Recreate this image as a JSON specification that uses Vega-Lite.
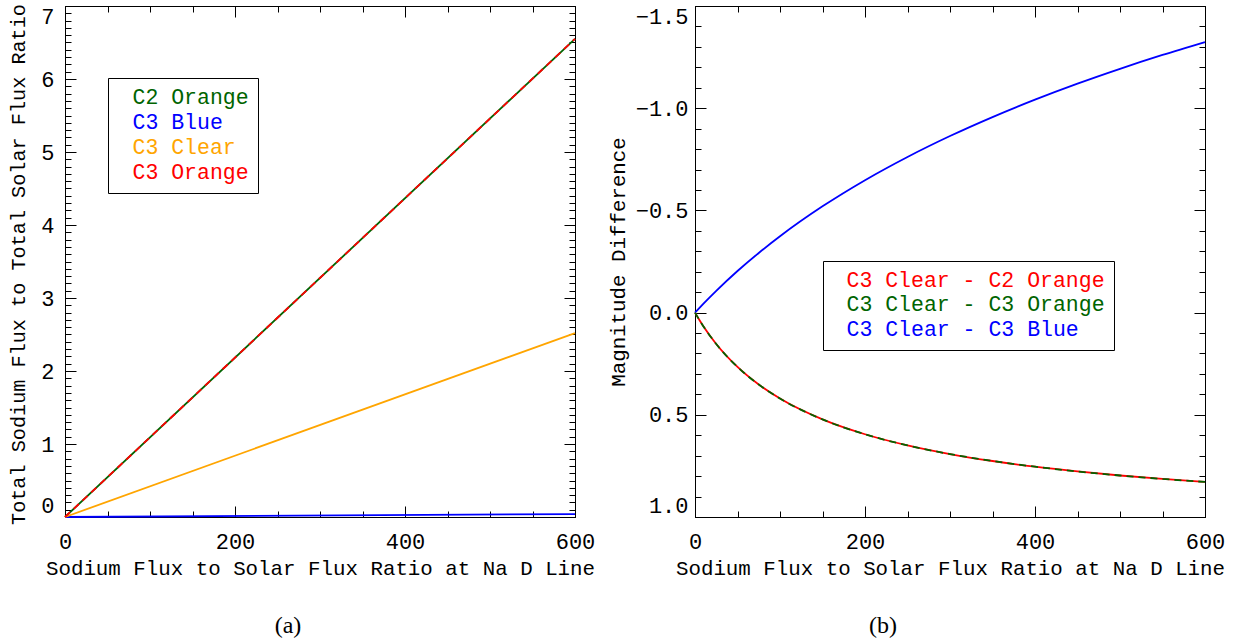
{
  "$schema": "https://vega.github.io/schema/vega-lite/v6.json",
  "autosize": {"type": "none"},
  "padding": {"left": 65, "top": 6, "right": 1178, "bottom": 638},
  "background": "white",
  "config": {
    "font": "Liberation Mono",
    "view": {"stroke": "black", "strokeWidth": 1},
    "axis": {"domain": false, "grid": false, "tickColor": "black", "tickWidth": 1, "labelFont": "Liberation Mono", "labelFontSize": 22, "labelColor": "black", "titleFont": "Liberation Mono", "titleFontSize": 20.8, "titleFontWeight": "normal", "titleColor": "black"},
    "title": {"font": "Liberation Serif", "fontSize": 24, "fontWeight": "normal", "color": "black"},
    "line": {"strokeWidth": 1.8}
  },
  "datasets": {
    "a": [
      {"series": "C2 Orange", "x": 0, "y": 0}, {"series": "C2 Orange", "x": 600, "y": 6.55},
      {"series": "C3 Blue", "x": 0, "y": 0}, {"series": "C3 Blue", "x": 600, "y": 0.04},
      {"series": "C3 Clear", "x": 0, "y": 0}, {"series": "C3 Clear", "x": 600, "y": 2.52},
      {"series": "C3 Orange", "x": 0, "y": 0}, {"series": "C3 Orange", "x": 600, "y": 6.55}
    ],
    "b": [
      {"series": "C3 Clear - C2 Orange", "x": 0, "y": 0},
      {"series": "C3 Clear - C2 Orange", "x": 5, "y": 0.0352},
      {"series": "C3 Clear - C2 Orange", "x": 10, "y": 0.0678},
      {"series": "C3 Clear - C2 Orange", "x": 25, "y": 0.1536},
      {"series": "C3 Clear - C2 Orange", "x": 50, "y": 0.266},
      {"series": "C3 Clear - C2 Orange", "x": 75, "y": 0.3521},
      {"series": "C3 Clear - C2 Orange", "x": 100, "y": 0.4205},
      {"series": "C3 Clear - C2 Orange", "x": 150, "y": 0.5225},
      {"series": "C3 Clear - C2 Orange", "x": 200, "y": 0.5952},
      {"series": "C3 Clear - C2 Orange", "x": 250, "y": 0.6497},
      {"series": "C3 Clear - C2 Orange", "x": 300, "y": 0.6921},
      {"series": "C3 Clear - C2 Orange", "x": 350, "y": 0.7261},
      {"series": "C3 Clear - C2 Orange", "x": 400, "y": 0.7539},
      {"series": "C3 Clear - C2 Orange", "x": 450, "y": 0.7772},
      {"series": "C3 Clear - C2 Orange", "x": 500, "y": 0.7969},
      {"series": "C3 Clear - C2 Orange", "x": 550, "y": 0.8138},
      {"series": "C3 Clear - C2 Orange", "x": 600, "y": 0.8285},
      {"series": "C3 Clear - C3 Orange", "x": 0, "y": 0},
      {"series": "C3 Clear - C3 Orange", "x": 5, "y": 0.0352},
      {"series": "C3 Clear - C3 Orange", "x": 10, "y": 0.0678},
      {"series": "C3 Clear - C3 Orange", "x": 25, "y": 0.1536},
      {"series": "C3 Clear - C3 Orange", "x": 50, "y": 0.266},
      {"series": "C3 Clear - C3 Orange", "x": 75, "y": 0.3521},
      {"series": "C3 Clear - C3 Orange", "x": 100, "y": 0.4205},
      {"series": "C3 Clear - C3 Orange", "x": 150, "y": 0.5225},
      {"series": "C3 Clear - C3 Orange", "x": 200, "y": 0.5952},
      {"series": "C3 Clear - C3 Orange", "x": 250, "y": 0.6497},
      {"series": "C3 Clear - C3 Orange", "x": 300, "y": 0.6921},
      {"series": "C3 Clear - C3 Orange", "x": 350, "y": 0.7261},
      {"series": "C3 Clear - C3 Orange", "x": 400, "y": 0.7539},
      {"series": "C3 Clear - C3 Orange", "x": 450, "y": 0.7772},
      {"series": "C3 Clear - C3 Orange", "x": 500, "y": 0.7969},
      {"series": "C3 Clear - C3 Orange", "x": 550, "y": 0.8138},
      {"series": "C3 Clear - C3 Orange", "x": 600, "y": 0.8285},
      {"series": "C3 Clear - C3 Blue", "x": 0, "y": 0},
      {"series": "C3 Clear - C3 Blue", "x": 5, "y": -0.0222},
      {"series": "C3 Clear - C3 Blue", "x": 10, "y": -0.044},
      {"series": "C3 Clear - C3 Blue", "x": 25, "y": -0.1066},
      {"series": "C3 Clear - C3 Blue", "x": 50, "y": -0.2034},
      {"series": "C3 Clear - C3 Blue", "x": 75, "y": -0.2919},
      {"series": "C3 Clear - C3 Blue", "x": 100, "y": -0.3735},
      {"series": "C3 Clear - C3 Blue", "x": 150, "y": -0.5197},
      {"series": "C3 Clear - C3 Blue", "x": 200, "y": -0.6477},
      {"series": "C3 Clear - C3 Blue", "x": 250, "y": -0.7614},
      {"series": "C3 Clear - C3 Blue", "x": 300, "y": -0.8638},
      {"series": "C3 Clear - C3 Blue", "x": 350, "y": -0.9567},
      {"series": "C3 Clear - C3 Blue", "x": 400, "y": -1.0418},
      {"series": "C3 Clear - C3 Blue", "x": 450, "y": -1.1202},
      {"series": "C3 Clear - C3 Blue", "x": 500, "y": -1.1928},
      {"series": "C3 Clear - C3 Blue", "x": 550, "y": -1.2605},
      {"series": "C3 Clear - C3 Blue", "x": 600, "y": -1.3238}
    ]
  },
  "spacing": 120,
  "bounds": "flush",
  "resolve": {"scale": {"color": "independent", "x": "independent", "y": "independent"}, "legend": {"color": "independent"}},
  "hconcat": [
    {
      "width": 510,
      "height": 511,
      "title": {"text": "(a)", "orient": "bottom", "frame": "group", "anchor": "middle", "baseline": "top", "offset": 36, "dx": -32},
      "data": {"name": "a"},
      "resolve": {"axis": {"x": "independent", "y": "independent"}},
      "layer": [
        {
          "transform": [{"filter": "datum.series !== 'C3 Orange'"}],
          "mark": {"type": "line", "strokeWidth": 1.8},
          "encoding": {
            "x": {"field": "x", "type": "quantitative", "scale": {"domain": [0, 600], "nice": false, "zero": false},
                  "axis": {"orient": "bottom", "values": [0, 200, 400, 600], "format": "d", "ticks": false, "labelPadding": 24, "labelBaseline": "middle", "labelFlush": false, "title": "Sodium Flux to Solar Flux Ratio at Na D Line", "titleY": 51, "titleBaseline": "middle"}},
            "y": {"field": "y", "type": "quantitative", "scale": {"domain": [0, 7], "nice": false, "zero": false},
                  "axis": {"orient": "left", "values": [0, 1, 2, 3, 4, 5, 6, 7], "format": "d", "ticks": false, "labelPadding": 11, "labelFlush": true, "title": "Total Sodium Flux to Total Solar Flux Ratio", "titleFontSize": 20.2, "titleX": -47, "titleY": 258, "titleAngle": 270, "titleBaseline": "middle"}},
            "color": {"field": "series", "type": "nominal",
                      "scale": {"domain": ["C2 Orange", "C3 Blue", "C3 Clear", "C3 Orange"], "range": ["#006400", "#0000ff", "#ffa500", "#ff0000"]},
                      "legend": {"orient": "none", "legendX": 43, "legendY": 72, "title": null, "strokeColor": "black", "fillColor": "white", "padding": 9, "labelOffset": -6, "symbolSize": 0, "symbolOpacity": 0, "symbolStrokeWidth": 0, "rowPadding": 2, "labelFont": "Liberation Mono", "labelFontSize": 21.5, "labelLimit": 400,
                                 "labelColor": {"expr": "datum.value === 'C2 Orange' ? '#006400' : datum.value === 'C3 Blue' ? '#0000ff' : datum.value === 'C3 Clear' ? '#ffa500' : '#ff0000'"}}}
          }
        },
        {
          "transform": [{"filter": "datum.series === 'C3 Orange'"}],
          "mark": {"type": "line", "strokeWidth": 1.8, "strokeDash": [7, 5], "color": "#ff0000"},
          "encoding": {
            "x": {"field": "x", "type": "quantitative", "axis": {"orient": "bottom", "values": [0, 200, 400, 600], "tickSize": -11, "labels": false, "title": null}},
            "y": {"field": "y", "type": "quantitative", "axis": {"orient": "left", "values": [0, 1, 2, 3, 4, 5, 6, 7], "tickSize": -11, "labels": false, "title": null}}
          }
        },
        {
          "mark": {"type": "line", "opacity": 0},
          "encoding": {
            "x": {"field": "x", "type": "quantitative", "axis": {"orient": "bottom", "tickCount": 12, "tickSize": -6, "labels": false, "title": null}},
            "y": {"field": "y", "type": "quantitative", "axis": {"orient": "left", "tickCount": 70, "tickSize": -6, "labels": false, "title": null}}
          }
        },
        {
          "mark": {"type": "line", "opacity": 0},
          "encoding": {
            "x": {"field": "x", "type": "quantitative", "axis": {"orient": "top", "values": [0, 200, 400, 600], "tickSize": -11, "labels": false, "title": null}},
            "y": {"field": "y", "type": "quantitative", "axis": {"orient": "right", "values": [0, 1, 2, 3, 4, 5, 6, 7], "tickSize": -11, "labels": false, "title": null}}
          }
        },
        {
          "mark": {"type": "line", "opacity": 0},
          "encoding": {
            "x": {"field": "x", "type": "quantitative", "axis": {"orient": "top", "tickCount": 12, "tickSize": -6, "labels": false, "title": null}},
            "y": {"field": "y", "type": "quantitative", "axis": {"orient": "right", "tickCount": 70, "tickSize": -6, "labels": false, "title": null}}
          }
        }
      ]
    },
    {
      "width": 510,
      "height": 511,
      "title": {"text": "(b)", "orient": "bottom", "frame": "group", "anchor": "middle", "baseline": "top", "offset": 36, "dx": -67},
      "data": {"name": "b"},
      "resolve": {"axis": {"x": "independent", "y": "independent"}},
      "layer": [
        {
          "transform": [{"filter": "datum.series !== 'C3 Clear - C3 Orange'"}],
          "mark": {"type": "line", "strokeWidth": 1.8, "interpolate": "monotone"},
          "encoding": {
            "x": {"field": "x", "type": "quantitative", "scale": {"domain": [0, 600], "nice": false, "zero": false},
                  "axis": {"orient": "bottom", "values": [0, 200, 400, 600], "format": "d", "ticks": false, "labelPadding": 24, "labelBaseline": "middle", "labelFlush": false, "title": "Sodium Flux to Solar Flux Ratio at Na D Line", "titleY": 51, "titleBaseline": "middle"}},
            "y": {"field": "y", "type": "quantitative", "scale": {"domain": [-1.5, 1.0], "reverse": true, "nice": false, "zero": false},
                  "axis": {"orient": "left", "values": [-1.5, -1.0, -0.5, 0, 0.5, 1.0], "format": ".1f", "ticks": false, "labelPadding": 7, "labelFlush": true, "title": "Magnitude Difference", "titleX": -77, "titleY": 255.5, "titleAngle": 270, "titleBaseline": "middle"}},
            "color": {"field": "series", "type": "nominal",
                      "scale": {"domain": ["C3 Clear - C2 Orange", "C3 Clear - C3 Orange", "C3 Clear - C3 Blue"], "range": ["#ff0000", "#006400", "#0000ff"]},
                      "legend": {"orient": "none", "legendX": 128, "legendY": 255, "title": null, "strokeColor": "black", "fillColor": "white", "padding": 9, "labelOffset": -7, "symbolSize": 0, "symbolOpacity": 0, "symbolStrokeWidth": 0, "rowPadding": 1.5, "labelFont": "Liberation Mono", "labelFontSize": 21.5, "labelLimit": 500,
                                 "labelColor": {"expr": "datum.value === 'C3 Clear - C2 Orange' ? '#ff0000' : datum.value === 'C3 Clear - C3 Orange' ? '#006400' : '#0000ff'"}}}
          }
        },
        {
          "transform": [{"filter": "datum.series === 'C3 Clear - C3 Orange'"}],
          "mark": {"type": "line", "strokeWidth": 1.8, "strokeDash": [7, 5], "color": "#006400", "interpolate": "monotone"},
          "encoding": {
            "x": {"field": "x", "type": "quantitative", "axis": {"orient": "bottom", "values": [0, 200, 400, 600], "tickSize": -11, "labels": false, "title": null}},
            "y": {"field": "y", "type": "quantitative", "axis": {"orient": "left", "values": [-1.5, -1.0, -0.5, 0, 0.5, 1.0], "tickSize": -11, "labels": false, "title": null}}
          }
        },
        {
          "mark": {"type": "line", "opacity": 0},
          "encoding": {
            "x": {"field": "x", "type": "quantitative", "axis": {"orient": "bottom", "tickCount": 12, "tickSize": -6, "labels": false, "title": null}},
            "y": {"field": "y", "type": "quantitative", "axis": {"orient": "left", "tickCount": 25, "tickSize": -6, "labels": false, "title": null}}
          }
        },
        {
          "mark": {"type": "line", "opacity": 0},
          "encoding": {
            "x": {"field": "x", "type": "quantitative", "axis": {"orient": "top", "values": [0, 200, 400, 600], "tickSize": -11, "labels": false, "title": null}},
            "y": {"field": "y", "type": "quantitative", "axis": {"orient": "right", "values": [-1.5, -1.0, -0.5, 0, 0.5, 1.0], "tickSize": -11, "labels": false, "title": null}}
          }
        },
        {
          "mark": {"type": "line", "opacity": 0},
          "encoding": {
            "x": {"field": "x", "type": "quantitative", "axis": {"orient": "top", "tickCount": 12, "tickSize": -6, "labels": false, "title": null}},
            "y": {"field": "y", "type": "quantitative", "axis": {"orient": "right", "tickCount": 25, "tickSize": -6, "labels": false, "title": null}}
          }
        }
      ]
    }
  ]
}
